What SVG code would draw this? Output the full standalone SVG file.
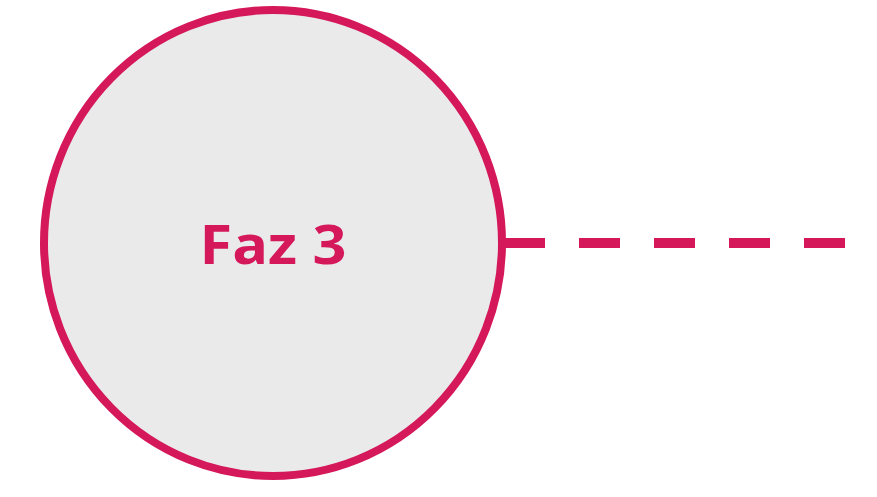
<svg xmlns="http://www.w3.org/2000/svg" width="877" height="497" viewBox="0 0 877 497">
<style>
.node{fill:#eaeaea;stroke:#d4185a;stroke-width:8}
.lbl{font-family:"Open Sans","Liberation Sans",sans-serif;font-weight:bold;font-size:53px;fill:#d4185a}
.conn{stroke:#d4185a;stroke-width:10;stroke-dasharray:41 34;fill:none}
</style>
<rect width="877" height="497" fill="#ffffff"/>
<g id="connectors">
<line class="conn" x1="504" y1="243" x2="848" y2="243"/>
</g>
<g id="faz3">
<ellipse class="node" cx="273" cy="243" rx="229" ry="233"/>
<text class="lbl" x="273" y="264" text-anchor="middle" textLength="147" lengthAdjust="spacingAndGlyphs">Faz 3</text>
</g>
</svg>
